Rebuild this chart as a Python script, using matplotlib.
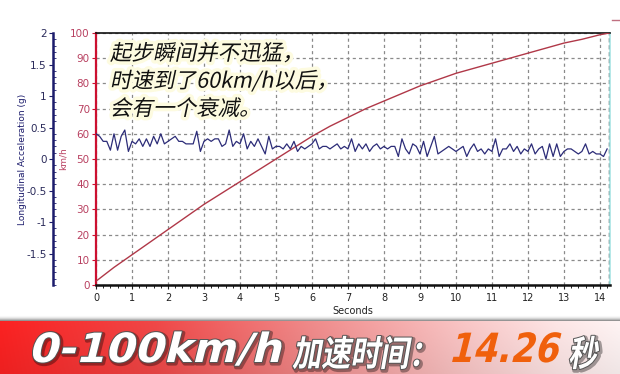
import numpy as np
import matplotlib
matplotlib.use("Agg")
import matplotlib.pyplot as plt
from matplotlib import patheffects
from matplotlib.transforms import Affine2D
from matplotlib.lines import Line2D
from matplotlib.ticker import MultipleLocator

plt.rcParams['axes.unicode_minus'] = False
plt.rcParams['font.family'] = ['DejaVu Sans', 'Noto Sans CJK SC']

# ---------------- data ----------------
speed_t = [0, 0.5, 1, 1.5, 2, 2.5, 3, 3.5, 4, 4.5, 5, 5.5, 6, 6.5, 7, 7.5,
           8, 8.5, 9, 9.5, 10, 10.5, 11, 11.5, 12, 12.5, 13, 13.5, 14, 14.26]
speed_kmh = [1.5, 7, 12, 17, 22, 27, 32, 36.5, 41, 45.5, 50, 54.5, 59, 63, 66.5, 70,
             73, 76, 79, 81.5, 84, 86, 88, 90, 92, 94, 96, 97.5, 99.3, 100]

accel_g = [0.40, 0.36, 0.28, 0.28, 0.14, 0.40, 0.14, 0.36, 0.46, 0.12,
           0.28, 0.24, 0.32, 0.20, 0.32, 0.20, 0.36, 0.24, 0.40, 0.24,
           0.28, 0.32, 0.36, 0.28, 0.28, 0.24, 0.24, 0.24, 0.44, 0.12,
           0.28, 0.32, 0.28, 0.32, 0.32, 0.20, 0.24, 0.46, 0.20, 0.28,
           0.24, 0.40, 0.16, 0.28, 0.20, 0.32, 0.20, 0.08, 0.36, 0.16,
           0.20, 0.20, 0.16, 0.24, 0.16, 0.28, 0.12, 0.20, 0.16, 0.20,
           0.24, 0.32, 0.16, 0.20, 0.20, 0.16, 0.20, 0.24, 0.16, 0.20,
           0.16, 0.32, 0.12, 0.24, 0.16, 0.24, 0.12, 0.20, 0.24, 0.16,
           0.20, 0.16, 0.20, 0.20, 0.04, 0.32, 0.16, 0.08, 0.24, 0.20,
           0.08, 0.28, 0.04, 0.20, 0.36, 0.08, 0.12, 0.16, 0.20, 0.16,
           0.12, 0.16, 0.20, 0.04, 0.16, 0.24, 0.12, 0.16, 0.08, 0.16,
           0.12, 0.32, 0.04, 0.16, 0.16, 0.24, 0.12, 0.20, 0.08, 0.16,
           0.12, 0.24, 0.08, 0.16, 0.20, 0.00, 0.24, 0.04, 0.24, 0.04,
           0.12, 0.16, 0.16, 0.12, 0.08, 0.12, 0.24, 0.08, 0.12, 0.08,
           0.08, 0.04, 0.16]
accel_t = np.round(np.arange(len(accel_g)) * 0.1, 1)

x_ticks = list(range(0, 15))
speed_ticks = list(range(0, 101, 10))
accel_ticks = [-1.5, -1, -0.5, 0, 0.5, 1, 1.5, 2]
accel_labels = ['-1.5', '-1', '-0.5', '0', '0.5', '1', '1.5', '2']
finish_time = 14.26

note_text = "起步瞬间并不迅猛，\n时速到了60km/h以后，\n会有一个衰减。"
banner_a = "0-100km/h"
banner_b = "加速时间："
banner_c = "14.26"
banner_d = "秒"

# ---------------- helpers ----------------
W, H = 620, 374


class Skewed(patheffects.AbstractPathEffect):
    """Draw text path with a shear (fake italic), optional scaling, stroke and offset."""
    def __init__(self, shear=12, xscale=1.0, yscale=1.0, lw=0, fg=None, fill=None,
                 dx=0, dy=0, alpha=None):
        super().__init__()
        self.shear, self.xscale, self.yscale = shear, xscale, yscale
        self.lw, self.fg = lw, fg
        self.fill, self.dx, self.dy, self.alpha = fill, dx, dy, alpha

    def draw_path(self, renderer, gc, tpath, affine, rgbFace):
        a = Affine2D().scale(self.xscale, self.yscale).skew_deg(self.shear, 0) + affine \
            + Affine2D().translate(self.dx, -self.dy)
        gc0 = renderer.new_gc()
        gc0.copy_properties(gc)
        if self.alpha is not None:
            gc0.set_alpha(self.alpha)
        if self.lw > 0:
            gc0.set_linewidth(self.lw)
            gc0.set_foreground(self.fg)
            gc0.set_joinstyle('round')
            renderer.draw_path(gc0, tpath, a, self.fill)
        else:
            renderer.draw_path(gc0, tpath, a, self.fill if self.fill is not None else rgbFace)
        gc0.restore()


def fx(x):
    return x / W


def fy(y):
    return 1 - y / H


# ---------------- figure ----------------
fig = plt.figure(figsize=(6.2, 3.74), dpi=100)
fig.patch.set_facecolor('white')

ax_w = 610 - 96
ax = fig.add_axes([fx(96), fy(285), ax_w / W, (285 - 33) / H])
ax.set_xlim(0, 14.28)
ax.set_ylim(0, 100)

navy = '#1c1c6c'
red_sp = '#cc1030'
red_lab = '#b84060'

ax.grid(True, which='major', color='#8a8a8a', linestyle=(0, (2.5, 2.5)), linewidth=0.9)
ax.set_axisbelow(True)
ax.set_xticks(x_ticks)
ax.set_yticks(speed_ticks)
ax.xaxis.set_minor_locator(MultipleLocator(0.2))
ax.tick_params(axis='x', labelsize=7, length=3, width=0.8, colors='#222222', pad=3)
ax.tick_params(axis='x', which='minor', length=2, width=0.6)
ax.tick_params(axis='y', labelsize=7.5, length=3, width=0.8, colors=red_sp,
               labelcolor=red_lab, pad=1.5)
ax.set_xlabel('Seconds', fontsize=7, color='#222222', labelpad=2)
ax.set_ylabel('km/h', fontsize=6.5, color=red_lab)
ax.yaxis.set_label_coords(-28 / ax_w, 0.5)

for s in ['top', 'bottom']:
    ax.spines[s].set_color('#111111')
ax.spines['bottom'].set_linewidth(1.8)
ax.spines['top'].set_linewidth(1.2)
ax.spines['left'].set_color(red_sp)
ax.spines['left'].set_linewidth(1.6)
ax.spines['right'].set_color('#a8e4e4')
ax.spines['right'].set_linewidth(1.2)

ax.axvline(finish_time, color='#203838', linestyle=(0, (3, 2)), linewidth=1.0)

ax.plot(speed_t, speed_kmh, color='#b03848', linewidth=1.0, zorder=3)

# acceleration axis (43 px to the left of the speed axis)
ax2 = ax.twinx()
ax2.set_ylim(-2, 2)
ax2.spines['right'].set_visible(False)
ax2.spines['top'].set_visible(False)
ax2.spines['bottom'].set_visible(False)
ax2.spines['left'].set_visible(True)
ax2.spines['left'].set_position(('outward', 43 * 72 / 100))
ax2.spines['left'].set_color(navy)
ax2.spines['left'].set_linewidth(1.8)
ax2.yaxis.set_ticks_position('left')
ax2.yaxis.set_label_position('left')
ax2.set_yticks(accel_ticks)
ax2.set_yticklabels(accel_labels)
ax2.yaxis.set_minor_locator(MultipleLocator(0.1))
ax2.tick_params(axis='y', labelsize=7.5, length=3, width=0.8, colors=navy,
                labelcolor='#2a2a5a', pad=1.5)
ax2.tick_params(axis='y', which='minor', length=2, width=0.6, colors=navy, direction='in')
ax2.set_ylabel('Longitudinal Acceleration (g)', fontsize=6.5, color=navy)
ax2.yaxis.set_label_coords(-69 / ax_w, 0.5)
ax2.plot(accel_t, accel_g, color='#2c2c78', linewidth=0.9, zorder=3)

# annotation text
note_font = ['Noto Sans CJK SC', 'DejaVu Sans']
ax.text(0.027, 0.96, note_text, transform=ax.transAxes, fontsize=15.5,
        family=note_font, color='#111111', va='top', ha='left', linespacing=1.33,
        zorder=6,
        path_effects=[Skewed(shear=12, lw=5, fg='#fdfbe0'),
                      Skewed(shear=12)])

# tiny legend fragment at top right
fig.add_artist(Line2D([fx(612), fx(620)], [fy(20), fy(20)], color='#c07080', linewidth=1))

# ---------------- banner ----------------
shadow = fig.add_axes([0, fy(322), 1, (322 - 315) / H])
shadow.axis('off')
sh = np.linspace(0, 1, 20).reshape(-1, 1)
shadow.imshow(np.dstack([1 - 0.65 * sh ** 2] * 3) * np.ones((20, 2, 1)), aspect='auto',
              extent=[0, 1, 0, 1])
shadow.set_xlim(0, 1)
shadow.set_ylim(0, 1)

band = fig.add_axes([0, 0, 1, (374 - 321) / H])
band.axis('off')
xs = np.linspace(0, 1, 300)
stops_x = [0.0, 0.25, 0.5, 0.75, 0.9, 1.0]
stops_r = [252, 240, 240, 250, 254, 255]
stops_g = [34, 72, 138, 198, 230, 244]
stops_b = [34, 72, 138, 198, 230, 244]
r = np.interp(xs, stops_x, stops_r) / 255
g = np.interp(xs, stops_x, stops_g) / 255
b = np.interp(xs, stops_x, stops_b) / 255
vert = np.linspace(1.0, 0.94, 40).reshape(-1, 1)
img = np.dstack([np.clip(r[None, :] * vert, 0, 1),
                 np.clip(g[None, :] * vert, 0, 1),
                 np.clip(b[None, :] * vert, 0, 1)])
band.imshow(img, aspect='auto', extent=[0, 1, 0, 1], origin='upper')
band.set_xlim(0, 1)
band.set_ylim(0, 1)

base_y = fy(362)
white_fx = [Skewed(shear=14, xscale=1.05, lw=3, fg='#000000', dx=1.5, dy=1.5, alpha=0.35),
            Skewed(shear=14, xscale=1.05, lw=1.4, fg='#555555'),
            Skewed(shear=14, xscale=1.05)]
fig.text(fx(28), base_y, banner_a, fontsize=29, fontweight='bold', color='white',
         family=['DejaVu Sans'], va='baseline', ha='left', path_effects=white_fx)
cjk_y = 1.22
white_cjk = [Skewed(shear=10, yscale=cjk_y, lw=3, fg='#000000', dx=1.5, dy=1.5, alpha=0.35),
             Skewed(shear=10, yscale=cjk_y, lw=1.4, fg='#555555'),
             Skewed(shear=10, yscale=cjk_y)]
fig.text(fx(292), fy(366), banner_b, fontsize=21, fontweight='heavy', color='white',
         family=['Noto Sans CJK SC'], va='baseline', ha='left', path_effects=white_cjk)
orange_fx = [Skewed(shear=14, yscale=1.16)]
fig.text(fx(448), base_y, banner_c, fontsize=25, fontweight='bold', color='#f0600c',
         family=['DejaVu Sans'], va='baseline', ha='left', path_effects=orange_fx)
fig.text(fx(568), fy(366), banner_d, fontsize=21, fontweight='heavy', color='white',
         family=['Noto Sans CJK SC'], va='baseline', ha='left', path_effects=white_cjk)

fig.savefig('out.png', dpi=100, facecolor='white')
